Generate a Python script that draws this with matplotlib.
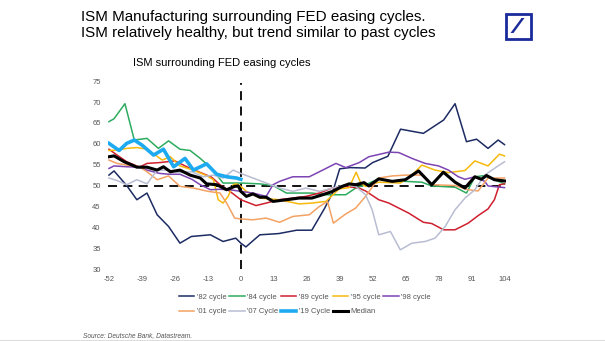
import matplotlib
matplotlib.use("Agg")
import matplotlib.pyplot as plt
from matplotlib.patches import Rectangle, Polygon

plt.rcParams["font.family"] = ["Liberation Sans", "DejaVu Sans"]
plt.rcParams["axes.unicode_minus"] = False

# weeks relative to first Fed cut, ISM values
w82 = [-52, -50, -45, -41, -37, -33, -28.5, -24, -19.5, -12, -7, -2, 0, 2, 7.5, 15, 22, 28, 33, 36,
       39, 43, 49, 52, 58, 63, 72, 80, 84.5, 89, 93, 97.5, 101.5, 104]
v82 = [52.5, 53.5, 50, 46.6, 48.2, 43, 40.2, 36.2, 37.8, 38.2, 36.6, 37.4, 36.2, 35.3, 38.2, 38.5, 39.3,
       39.3, 44.5, 48, 54, 54.3, 54.2, 55.5, 57, 63.5, 62.5, 65.7, 69.6, 60.5, 61.1, 58.9, 60.9, 59.8]

w84 = [-52, -50, -45.7, -42, -37, -32.5, -28.5, -24, -20, -16, -11.5, -7, -3, 0, 7.5, 12.7, 18, 23, 28,
       33.6, 38.8, 41.4, 45.3, 49.2, 54.4, 59.7, 64.9, 71.4, 75.3, 84.5, 89, 92.3, 96.2, 100, 104]
v84 = [65.3, 66, 69.6, 60.9, 61.3, 58.9, 60.7, 58.7, 58.4, 56.5, 54.1, 50.6, 50.6, 50.6, 50.4, 50, 48.2,
       48.2, 48.2, 47.8, 47.8, 47.8, 49.4, 50.2, 51.6, 51, 51, 50.8, 49.9, 49.6, 48.2, 52.1, 52.4, 51.4, 50.4]

w89 = [-52, -48.8, -45, -40, -37, -32, -26, -21.3, -16.7, -11.5, -8.2, -4.3, 0, 6, 10, 15, 20.5, 25.7,
       31, 36, 41.4, 46.6, 49.2, 54.4, 58.4, 66.2, 72, 75.3, 80, 84.5, 89.7, 93.6, 97.5, 100, 102, 104]
v89 = [58.7, 57.3, 55.7, 54.4, 55.3, 55.5, 55.9, 54.5, 53.3, 52, 50.2, 48.6, 46.6, 45.2, 45.8, 46.6, 47,
       47.4, 48.2, 49.4, 49.8, 49.4, 48.7, 46.6, 45.8, 43.4, 41.2, 40.9, 39.4, 39.4, 41, 42.8, 44.4, 46.6,
       50.2, 50.4]

w95 = [-52, -48.8, -45, -41, -37, -33.7, -31, -27.8, -24, -18.7, -14, -10.8, -8.9, -7, -5, -3, -1.7, 0,
       2.2, 7.5, 15, 23, 28, 33.6, 38.8, 42.7, 45.5, 47.3, 49.2, 54.4, 62.9, 67.5, 71.4, 76.6, 81.9, 88.4,
       92.3, 97.5, 102, 104]
v95 = [58.4, 58.5, 58.9, 59.1, 58.7, 57.3, 56.1, 56.9, 54.7, 53.7, 52.5, 51.4, 46.6, 45.8, 47.4, 50.2,
       50.4, 49.8, 48.6, 47, 46.6, 45.6, 45.8, 46.2, 49.2, 49.5, 53.2, 50.6, 49.8, 50.8, 50.6, 52.5, 54.9,
       53.7, 53.1, 53.6, 55.9, 54.7, 57.5, 57.1]

w98 = [-52, -50, -45, -40, -37, -32, -28, -24, -19.3, -16, -12, -8.2, -4.3, 0, 4.8, 10, 12.7, 15.3, 20.5,
       27, 32.3, 37.5, 41.4, 46.7, 50.5, 58.4, 62.3, 67.5, 72.7, 78, 81.9, 85.8, 88.4, 92.3, 96.2, 97.5, 104]
v98 = [54.1, 54.7, 54.5, 54.4, 53.7, 52.9, 52.7, 52.7, 51.5, 50.2, 49, 49.1, 49, 48.6, 48.2, 47.4, 50.2,
       51, 52.1, 52.1, 53.7, 55.3, 54.3, 55.5, 56.9, 58, 57.9, 56.5, 55.3, 54.7, 53.7, 52.1, 51.5, 52.1,
       51, 49.9, 49.5]

w01 = [-52, -48.8, -45, -40, -37, -33, -28.5, -24, -18.7, -12.8, -8.2, -5.6, -2.4, 0, 4.8, 10, 15.3,
       20.5, 27, 31, 34.2, 36.5, 41.4, 45.3, 49.2, 54.4, 59.7, 64.9, 71.4, 75.3, 84.5, 89.7, 93.6, 97.5, 104]
v01 = [56.1, 55.3, 54.9, 54.5, 53.3, 51.4, 52.3, 49.8, 49.4, 48.6, 48.2, 45.8, 42.2, 42, 41.8, 42.2,
       41.2, 42.6, 43, 45, 46.2, 41, 43.2, 44.6, 47.4, 51.8, 52.3, 52.5, 52.5, 50.2, 50, 49, 48.7, 51.8, 51.8]

w07 = [-52, -48.8, -45, -41, -37, -33, -28.5, -24, -19.3, -14.8, -10.8, -7, -3, 0, 4.8, 10, 15.3, 20.5,
       25.7, 31, 36.2, 41.4, 45.3, 49.2, 51.8, 54.4, 59, 62.9, 67.5, 72.7, 76.6, 80.6, 84.5, 88.4, 92.3,
       96.2, 100, 104]
v07 = [51.8, 51.2, 50.2, 51.4, 50.4, 53.7, 53.7, 53.1, 53.3, 52.1, 52.5, 51.8, 53.7, 52.9, 51.8, 50.6,
       49.4, 48.6, 49.4, 48.6, 49.4, 50.2, 49.8, 47.8, 44.2, 38.2, 39, 34.6, 36.2, 36.6, 37.4, 40.2, 44.2,
       47, 49, 52.5, 54.1, 55.7]

w19 = [-52, -48, -45, -42, -39, -34.4, -30.5, -26.5, -22, -18.7, -13.5, -9.5, -5.6, -1.7, 0]
v19 = [60.1, 58.4, 60.1, 60.9, 59.7, 57.3, 58.7, 54.5, 56.5, 53.7, 55.2, 52.7, 52.1, 51.8, 51.5]

wmed = [-52, -50, -46, -41, -37, -33, -30.5, -27.8, -24, -20, -16, -13.5, -9.5, -5.6, -2.4, -1, 0, 2.2,
        4.8, 7.5, 10, 12.7, 18, 23, 28, 32.3, 36.2, 40, 42.7, 45.3, 48.6, 50.5, 54.4, 59.7, 64.9, 70.1,
        75.3, 79.9, 84.5, 88.4, 92.3, 94.9, 96.9, 100, 104]
vmed = [56.9, 57.1, 55.7, 54.4, 54.4, 53.7, 54.5, 53.3, 53.7, 52.5, 51.8, 50.4, 50.2, 49, 49.8, 49.9,
        48.6, 47.4, 48, 47.2, 47.2, 46.2, 46.6, 47, 47, 47.8, 48.6, 49.8, 50.4, 50.2, 50.7, 49.9, 51.6, 51,
        51.4, 53.5, 50.2, 53.2, 50.8, 49.4, 52.1, 51.5, 52.4, 51.4, 51.1]

xticks = [-52, -39, -26, -13, 0, 13, 26, 39, 52, 65, 78, 91, 104]
yticks = [30, 35, 40, 45, 50, 55, 60, 65, 70, 75]

fig = plt.figure(figsize=(6.05, 3.41), dpi=100)
ax = fig.add_axes([0.178, 0.211, 0.658, 0.551])

ax.axhline(50, color="black", lw=1.3, dashes=(5, 3.5), zorder=1)
ax.axvline(0, ymin=0, ymax=0.99, color="black", lw=1.3, dashes=(5, 3.5), zorder=1)

l82, = ax.plot(w82, v82, color="#1d2b63", lw=1.1, label="'82 cycle")
l84, = ax.plot(w84, v84, color="#2dab5f", lw=1.1, label="'84 cycle")
l89, = ax.plot(w89, v89, color="#cf1f2e", lw=1.1, label="'89 cycle")
l95, = ax.plot(w95, v95, color="#f7b90c", lw=1.1, label="'95 cycle")
l98, = ax.plot(w98, v98, color="#7d44b4", lw=1.1, label="'98 cycle")
l01, = ax.plot(w01, v01, color="#f4a263", lw=1.1, label="'01 cycle")
l07, = ax.plot(w07, v07, color="#b9bdd2", lw=1.1, label="'07 Cycle")
l19, = ax.plot(w19, v19, color="#1eaaf0", lw=2.6, label="'19 Cycle")
lmed, = ax.plot(wmed, vmed, color="black", lw=2.2, label="Median")

ax.set_xlim(-52.5, 104.5)
ax.set_ylim(30, 75)
ax.set_xticks(xticks)
ax.set_yticks(yticks)
ax.tick_params(length=0, labelsize=5.5, labelcolor="#555555", pad=5)
for s in ax.spines.values():
    s.set_visible(False)

# legend filled column-wise, so interleave to get the two rows
order = [l82, l01, l84, l07, l89, l19, l95, lmed, l98]
ax.legend(handles=order, labels=[h.get_label() for h in order], ncol=5,
          loc="upper left", bbox_to_anchor=(0.17, -0.11), frameon=False,
          fontsize=5.5, labelcolor="#555555", handlelength=2.0, handletextpad=0.3,
          columnspacing=0.4, labelspacing=0.95, borderpad=0)

fig.text(81 / 605, 1 - 20.7 / 341, "ISM Manufacturing surrounding FED easing cycles.", fontsize=10.9,
         va="baseline")
fig.text(81 / 605, 1 - 36.7 / 341, "ISM relatively healthy, but trend similar to past cycles", fontsize=10.9,
         va="baseline")
fig.text(133 / 605, 1 - 65.7 / 341, "ISM surrounding FED easing cycles", fontsize=8, va="baseline")
fig.text(0.137, 0.017, "Source: Deutsche Bank, Datastream.", fontsize=4.8, style="italic",
         color="#555555", va="center")

# Deutsche Bank logo
px, py = 1 / 605, 1 / 341
blue = "#1a2a9c"
fig.patches.append(Rectangle((505.5 * px, 1 - 38.7 * py), 25 * px, 24.4 * py, transform=fig.transFigure,
                             facecolor="white", edgecolor=blue, lw=2.0))
fig.patches.append(Polygon([(521.5 * px, 1 - 18 * py), (524.5 * px, 1 - 18 * py),
                            (513.5 * px, 1 - 33 * py), (510.5 * px, 1 - 33 * py)],
                           closed=True, transform=fig.transFigure, facecolor=blue, edgecolor="none"))

fig.add_artist(plt.Line2D([0, 1], [0.003, 0.003], color="#dddddd", lw=0.8, transform=fig.transFigure))

fig.savefig("out.png", dpi=100)
